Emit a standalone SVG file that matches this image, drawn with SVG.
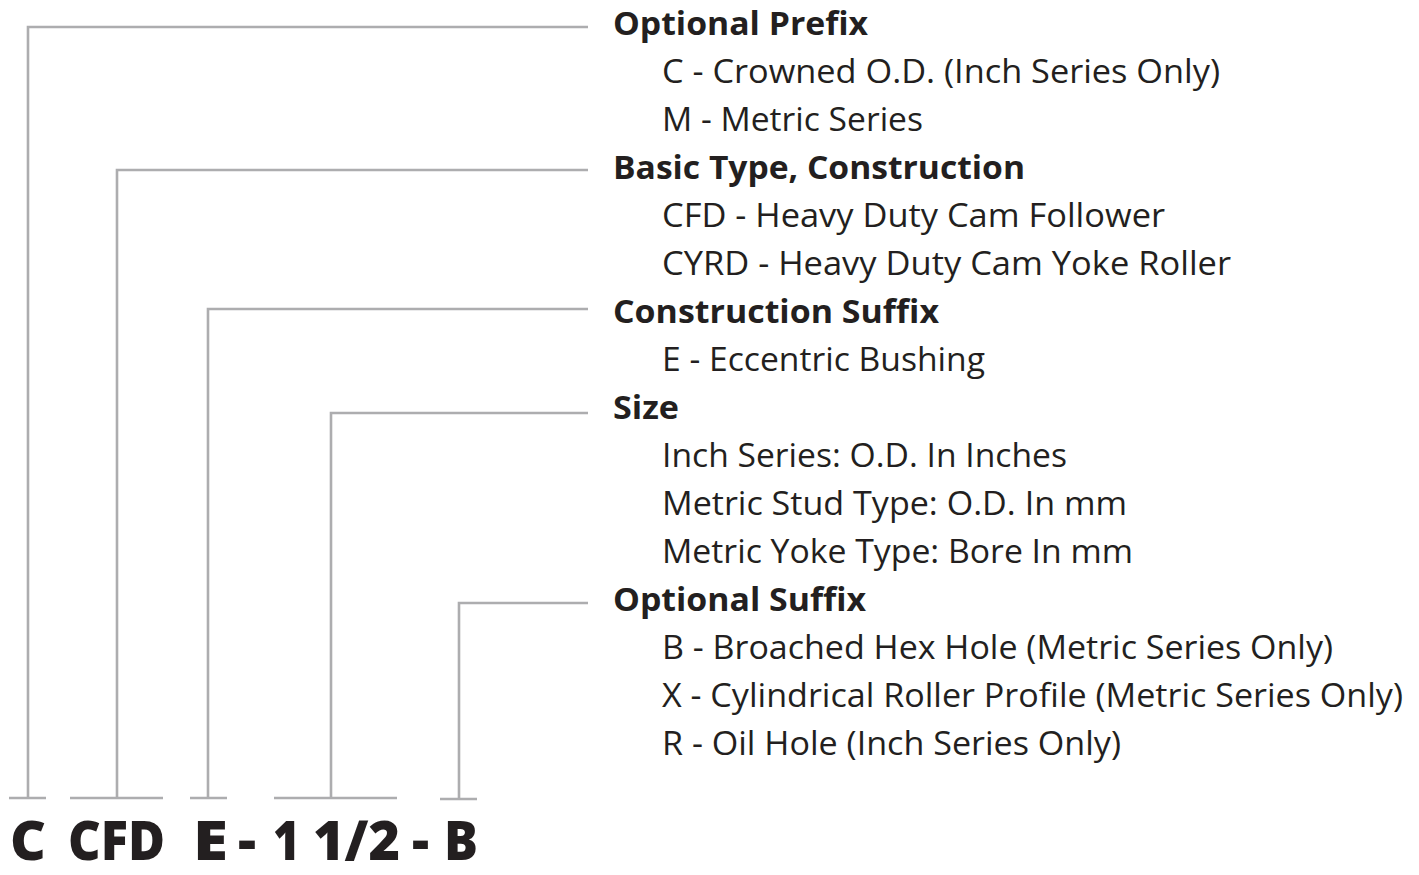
<svg xmlns="http://www.w3.org/2000/svg" width="1419" height="875" viewBox="0 0 1419 875">
<style>
.ln{fill:none;stroke:#adadaf;stroke-width:2.6}
.h{font-family:"Open Sans","Liberation Sans",sans-serif;font-weight:700;font-size:32px;fill:#231f20}
.t{font-family:"Open Sans","Liberation Sans",sans-serif;font-weight:400;font-size:32px;fill:#231f20}
.code{font-family:"Open Sans","Liberation Sans",sans-serif;font-weight:800;font-size:55px;fill:#231f20}
</style>
<rect width="1419" height="875" fill="#ffffff"/>
<g id="connectors">
<polyline class="ln" points="588,27 28,27 28,798"/>
<polyline class="ln" points="588,170 117,170 117,798"/>
<polyline class="ln" points="588,309 208,309 208,798"/>
<polyline class="ln" points="588,413 331,413 331,798"/>
<polyline class="ln" points="588,603 459,603 459,798"/>
<line class="ln" x1="9" y1="798" x2="46" y2="798"/>
<line class="ln" x1="70" y1="798" x2="163" y2="798"/>
<line class="ln" x1="190" y1="798" x2="227" y2="798"/>
<line class="ln" x1="274" y1="798" x2="397" y2="798"/>
<line class="ln" x1="440" y1="799" x2="477" y2="799"/>
</g>
<g id="code">
<text class="code" y="860"><tspan x="10" textLength="36" lengthAdjust="spacingAndGlyphs">C</tspan><tspan x="68" textLength="97" lengthAdjust="spacingAndGlyphs">CFD</tspan><tspan x="193" textLength="35" lengthAdjust="spacingAndGlyphs">E</tspan><tspan x="238" textLength="18" lengthAdjust="spacingAndGlyphs">-</tspan><tspan x="273" textLength="27" lengthAdjust="spacingAndGlyphs">1</tspan><tspan x="313" textLength="87" lengthAdjust="spacingAndGlyphs">1/2</tspan><tspan x="412" textLength="17" lengthAdjust="spacingAndGlyphs">-</tspan><tspan x="444" textLength="34" lengthAdjust="spacingAndGlyphs">B</tspan></text>
</g>
<g id="prefix">
<text class="h" x="613" y="35" textLength="255" lengthAdjust="spacingAndGlyphs">Optional Prefix</text>
<text class="t" x="662" y="83" textLength="558" lengthAdjust="spacingAndGlyphs">C - Crowned O.D. (Inch Series Only)</text>
<text class="t" x="662" y="131" textLength="261" lengthAdjust="spacingAndGlyphs">M - Metric Series</text>
</g>
<g id="basic-type">
<text class="h" x="613" y="179" textLength="412" lengthAdjust="spacingAndGlyphs">Basic Type, Construction</text>
<text class="t" x="662" y="227" textLength="503" lengthAdjust="spacingAndGlyphs">CFD - Heavy Duty Cam Follower</text>
<text class="t" x="662" y="275" textLength="569" lengthAdjust="spacingAndGlyphs">CYRD - Heavy Duty Cam Yoke Roller</text>
</g>
<g id="construction-suffix">
<text class="h" x="613" y="323" textLength="326" lengthAdjust="spacingAndGlyphs">Construction Suffix</text>
<text class="t" x="662" y="371" textLength="323" lengthAdjust="spacingAndGlyphs">E - Eccentric Bushing</text>
</g>
<g id="size">
<text class="h" x="613" y="419" textLength="66" lengthAdjust="spacingAndGlyphs">Size</text>
<text class="t" x="662" y="467" textLength="405" lengthAdjust="spacingAndGlyphs">Inch Series: O.D. In Inches</text>
<text class="t" x="662" y="515" textLength="465" lengthAdjust="spacingAndGlyphs">Metric Stud Type: O.D. In mm</text>
<text class="t" x="662" y="563" textLength="471" lengthAdjust="spacingAndGlyphs">Metric Yoke Type: Bore In mm</text>
</g>
<g id="optional-suffix">
<text class="h" x="613" y="611" textLength="253" lengthAdjust="spacingAndGlyphs">Optional Suffix</text>
<text class="t" x="662" y="659" textLength="671" lengthAdjust="spacingAndGlyphs">B - Broached Hex Hole (Metric Series Only)</text>
<text class="t" x="662" y="707" textLength="741" lengthAdjust="spacingAndGlyphs">X - Cylindrical Roller Profile (Metric Series Only)</text>
<text class="t" x="662" y="755" textLength="459" lengthAdjust="spacingAndGlyphs">R - Oil Hole (Inch Series Only)</text>
</g>
</svg>
